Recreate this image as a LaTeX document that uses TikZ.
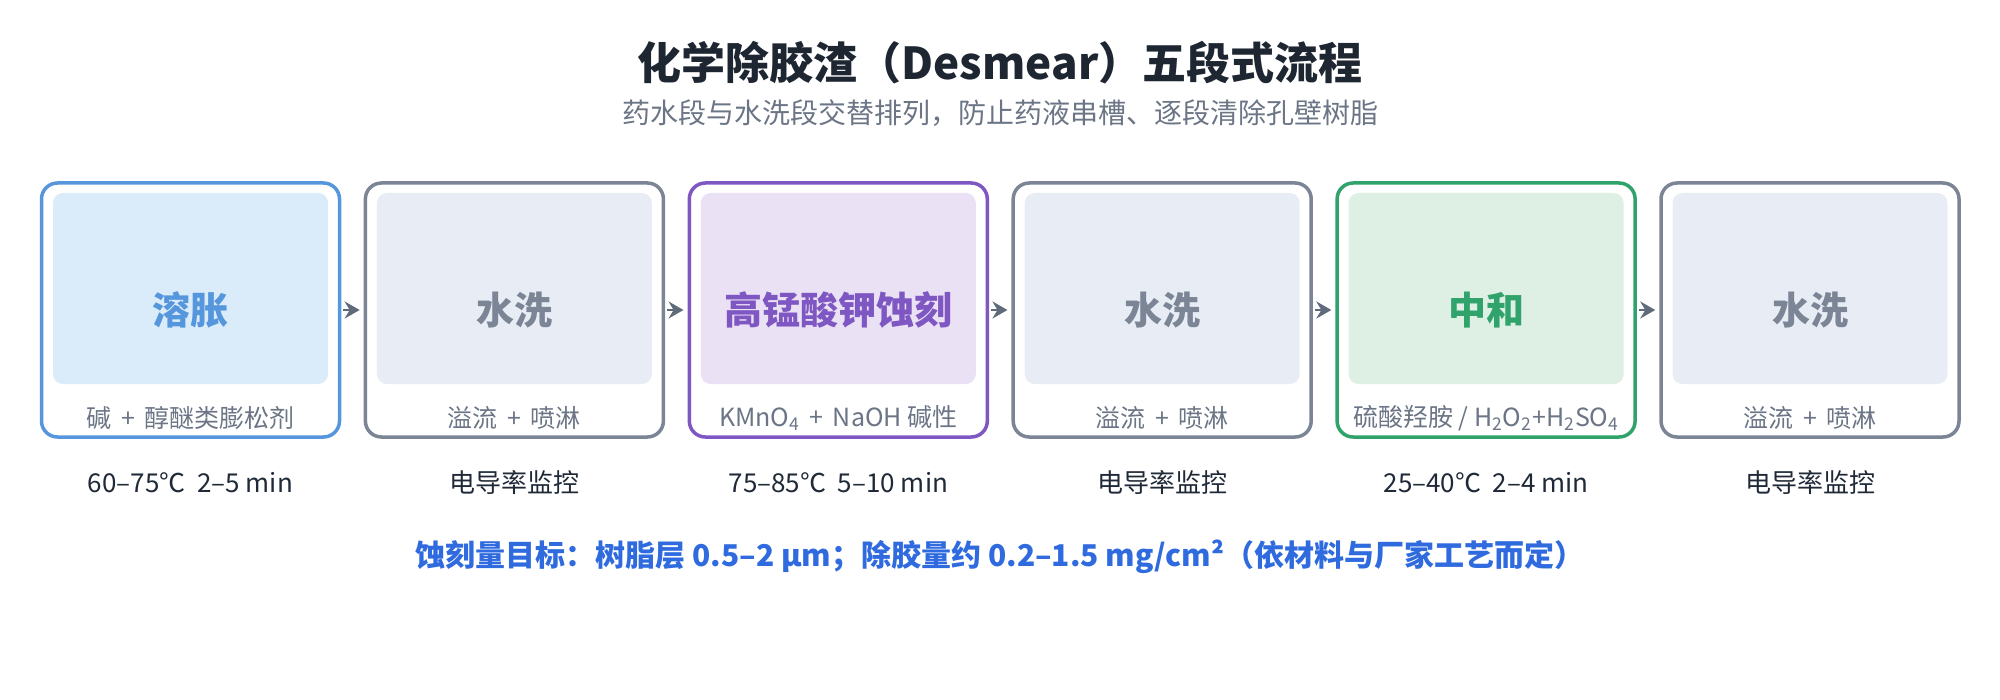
\documentclass[tikz,border=0pt]{standalone}
\usepackage{fontspec}
\setmainfont{Noto Sans CJK SC}
\usetikzlibrary{arrows.meta}

\definecolor{titleink}{HTML}{1E2632}
\definecolor{subgray}{HTML}{6B7585}
\definecolor{ink}{HTML}{1F2937}
\definecolor{swellblue}{HTML}{5596DC}
\definecolor{swellfill}{HTML}{DAEBFA}
\definecolor{rinsegray}{HTML}{7B8595}
\definecolor{rinsefill}{HTML}{E8EDF5}
\definecolor{etchpurple}{HTML}{7E57C2}
\definecolor{etchfill}{HTML}{EAE1F5}
\definecolor{neutgreen}{HTML}{2FA36B}
\definecolor{neutfill}{HTML}{DEEFE4}
\definecolor{arrowgray}{HTML}{5F6B7B}
\definecolor{targetblue}{HTML}{2F6BDF}

\newcommand{\wsp}{\hspace{.38em}}

\begin{document}
\begin{tikzpicture}[x=0.5pt,y=-0.5pt,
  stage/.style={draw, line width=1.75pt, fill=white, rounded corners=8pt,
    minimum width=149pt, minimum height=127pt, inner sep=0pt},
  panel/.style={rounded corners=5pt, minimum width=137.5pt,
    minimum height=95.5pt, inner sep=0pt},
  stagename/.style={font=\fontsize{19}{23}\selectfont\bfseries},
  stagenote/.style={text=subgray, font=\fontsize{12.5}{15}\selectfont},
  stagecond/.style={text=ink, font=\fontsize{13}{16}\selectfont},
  link/.style={draw=arrowgray, line width=1.2pt,
    -{Stealth[length=7.5pt,width=8.5pt,inset=2.5pt]}, shorten <=1pt, shorten >=2pt}]
\path[use as bounding box] (0,0) rectangle (2000,700);

\node[text=titleink, font=\fontsize{22}{26}\selectfont\bfseries] (title) at (1000,63) {化学除胶渣（Desmear）五段式流程};
\node[text=subgray, font=\fontsize{14}{17}\selectfont] (subtitle) at (1000,113) {药水段与水洗段交替排列，防止药液串槽、逐段清除孔壁树脂};

% stage boxes
\node[stage, draw=swellblue] (b1) at (190.5,310) {};
\node[stage, draw=rinsegray] (b2) at (514.4,310) {};
\node[stage, draw=etchpurple] (b3) at (838.3,310) {};
\node[stage, draw=rinsegray] (b4) at (1162.2,310) {};
\node[stage, draw=neutgreen] (b5) at (1486.1,310) {};
\node[stage, draw=rinsegray] (b6) at (1810,310) {};

\node[panel, fill=swellfill] (f1) at (190.5,288.5) {};
\node[panel, fill=rinsefill] (f2) at (514.4,288.5) {};
\node[panel, fill=etchfill] (f3) at (838.3,288.5) {};
\node[panel, fill=rinsefill] (f4) at (1162.2,288.5) {};
\node[panel, fill=neutfill] (f5) at (1486.1,288.5) {};
\node[panel, fill=rinsefill] (f6) at (1810,288.5) {};

\node[stagename, text=swellblue] (n1) at (b1) {溶胀};
\node[stagename, text=rinsegray] (n2) at (b2) {水洗};
\node[stagename, text=etchpurple] (n3) at (b3) {高锰酸钾蚀刻};
\node[stagename, text=rinsegray] (n4) at (b4) {水洗};
\node[stagename, text=neutgreen] (n5) at (b5) {中和};
\node[stagename, text=rinsegray] (n6) at (b6) {水洗};

\node[stagenote] (m1) at (190.5,418) {碱\wsp{}+\wsp{}醇醚类膨松剂};
\node[stagenote] (m2) at (514.4,418) {溢流\wsp{}+\wsp{}喷淋};
\node[stagenote] (m3) at (838.3,418) {KMnO\textsubscript{4}\wsp{}+\wsp{}NaOH 碱性};
\node[stagenote] (m4) at (1162.2,418) {溢流\wsp{}+\wsp{}喷淋};
\node[stagenote] (m5) at (1486.1,418) {硫酸羟胺 / H\textsubscript{2}O\textsubscript{2}+H\textsubscript{2}SO\textsubscript{4}};
\node[stagenote] (m6) at (1810,418) {溢流\wsp{}+\wsp{}喷淋};

\node[stagecond] (c1) at (190.5,483) {60–75℃\ \ 2–5 min};
\node[stagecond] (c2) at (514.4,483) {电导率监控};
\node[stagecond] (c3) at (838.3,483) {75–85℃\ \ 5–10 min};
\node[stagecond] (c4) at (1162.2,483) {电导率监控};
\node[stagecond] (c5) at (1486.1,483) {25–40℃\ \ 2–4 min};
\node[stagecond] (c6) at (1810,483) {电导率监控};

\path[link] (b1) -- (b2);
\path[link] (b2) -- (b3);
\path[link] (b3) -- (b4);
\path[link] (b4) -- (b5);
\path[link] (b5) -- (b6);

\node[text=targetblue, font=\fontsize{15}{18}\selectfont\bfseries] (target) at (1000,557) {蚀刻量目标：树脂层 0.5–2 μm；除胶量约 0.2–1.5 mg/cm²（依材料与厂家工艺而定）};
\end{tikzpicture}
\end{document}
